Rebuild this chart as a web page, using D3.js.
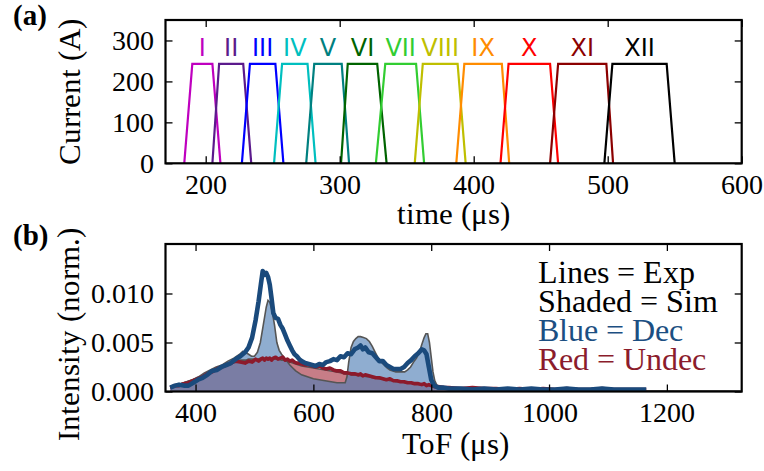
<!DOCTYPE html>
<html><head><meta charset="utf-8">
<style>
@font-face { font-family: "FigSerif"; src: local("Liberation Serif"), local("LiberationSerif"), local("LiberationSerif-Regular"), local("Tinos"), local("FreeSerif"); font-weight: 400; font-style: normal; }
</style>
<script src="https://cdn.jsdelivr.net/npm/d3@7"></script></head>
<body style="margin:0">
<svg id="s" width="764" height="471" font-family="FigSerif"></svg>
<script>
// ---------- Panel (a): coil current pulses ----------
const pulseLabels    = ["I", "II", "III", "IV", "V", "VI", "VII", "VIII", "IX", "X", "XI", "XII"];
const pulseRiseStart = [184, 205, 227, 251, 275, 301, 327, 356, 387, 420, 457, 497.5];
const pulseFlatStart = [190, 210, 233, 257, 281, 306, 334, 362, 393, 426, 463, 503.5];
const pulseFlatEnd   = [205, 228, 252, 276, 301.5, 328, 357, 388, 421, 457, 499, 544];
const pulseFallEnd   = [211, 234, 258, 282, 307, 335, 363, 394, 426.5, 463, 504, 550];
const pulseCurrent   = 243;
const timeTicks      = [200, 300, 400, 500, 600];
const currentTicks   = [0, 100, 200, 300];

// ---------- Panel (b): time-of-flight signals ----------
const expTof = [357, 365, 372, 380, 388, 396, 404, 412, 420, 428, 436, 444, 452, 460, 468, 476, 484, 490, 496, 502,
  507, 511, 514, 517, 520, 523, 526, 529, 532, 536, 540, 544, 548, 552, 556, 560, 564, 568, 572, 576,
  580, 586, 592, 598, 604, 610, 616, 622, 628, 634, 640, 646, 652, 658, 664, 670, 676, 680, 684, 688,
  694, 700, 706, 712, 718, 724, 730, 736, 742, 748, 754, 760, 766, 772, 778, 784, 788, 792, 796, 800,
  805, 812, 820, 830, 850, 870, 890, 910, 930, 950, 970, 990, 1010, 1030, 1050, 1070, 1090, 1110, 1130, 1150, 1165];
const expDec = [0.0004, 0.0006, 0.0007, 0.0006, 0.0006, 0.0009, 0.0012, 0.0014, 0.0017, 0.0021, 0.0022, 0.0025, 0.0027, 0.0029, 0.0033, 0.0036, 0.0040, 0.0045, 0.0055, 0.0073,
  0.0092, 0.0110, 0.0123, 0.0119, 0.0121, 0.0117, 0.0109, 0.0095, 0.0080, 0.0075, 0.0074, 0.0068, 0.0064, 0.0058, 0.0052, 0.0047, 0.0042, 0.0038, 0.0036, 0.0033,
  0.0031, 0.0029, 0.0028, 0.0027, 0.0026, 0.0028, 0.0027, 0.0030, 0.0031, 0.0033, 0.0032, 0.0036, 0.0035, 0.0039, 0.0038, 0.0043, 0.0045, 0.0047, 0.0043, 0.0045,
  0.0040, 0.0039, 0.0035, 0.0031, 0.0031, 0.0027, 0.0025, 0.0023, 0.0023, 0.0023, 0.0025, 0.0029, 0.0032, 0.0036, 0.0039, 0.0043, 0.0042, 0.0038, 0.0025, 0.0012,
  0.0006, 0.0004, 0.0004, 0.0003, 0.0003, 0.0002, 0.0003, 0.0002, 0.0003, 0.0002, 0.0003, 0.0002, 0.0002, 0.0003, 0.0002, 0.0002, 0.0003, 0.0002, 0.0002, 0.0002, 0.0002];
const expUndec = [0.0004, 0.0006, 0.0006, 0.0008, 0.0009, 0.0011, 0.0013, 0.0015, 0.0018, 0.0020, 0.0023, 0.0025, 0.0027, 0.0029, 0.0031, 0.0030, 0.0029, 0.0031, 0.0030, 0.0033,
  0.0031, 0.0033, 0.0034, 0.0032, 0.0034, 0.0033, 0.0034, 0.0032, 0.0034, 0.0035, 0.0033, 0.0034, 0.0035, 0.0032, 0.0033, 0.0031, 0.0032, 0.0030, 0.0029, 0.0029,
  0.0028, 0.0027, 0.0027, 0.0026, 0.0025, 0.0026, 0.0024, 0.0023, 0.0024, 0.0022, 0.0021, 0.0021, 0.0019, 0.0019, 0.0018, 0.0018, 0.0017, 0.0018, 0.0016, 0.0017,
  0.0016, 0.0015, 0.0014, 0.0014, 0.0013, 0.0012, 0.0013, 0.0011, 0.0011, 0.0010, 0.0010, 0.0009, 0.0009, 0.0008, 0.0008, 0.0007, 0.0008, 0.0006, 0.0007, 0.0006,
  0.0005, 0.0005, 0.0004, 0.0004, 0.0003, 0.0004, 0.0003, 0.0003, 0.0002, 0.0003, 0.0002, 0.0003, 0.0002, 0.0003, 0.0002, 0.0002, 0.0003, 0.0002, 0.0002, 0.0002, 0.0002];

const simTof = [357, 365, 375, 385, 395, 405, 415, 425, 435, 445, 455, 465, 475, 480, 485, 490, 495, 500, 505, 510,
  515, 520, 523, 526, 530, 534, 538, 542, 546, 550, 555, 560, 565, 570, 575, 580, 590, 600, 610, 620,
  630, 640, 648, 654, 657, 660, 664, 668, 672, 676, 680, 685, 690, 695, 700, 705, 710, 715, 720, 725,
  730, 735, 740, 745, 750, 755, 760, 765, 770, 775, 780, 784, 788, 791, 794, 797, 800, 803, 806, 810,
  815, 820, 830, 850, 900, 950, 1000, 1100, 1200, 1300, 1325];
const simDec = [0.0004, 0.0006, 0.0008, 0.0010, 0.0012, 0.0015, 0.0019, 0.0022, 0.0025, 0.0027, 0.0031, 0.0034, 0.0038, 0.0041, 0.0040, 0.0038, 0.0036, 0.0036, 0.0040, 0.0050,
  0.0068, 0.0086, 0.0093, 0.0091, 0.0082, 0.0068, 0.0050, 0.0042, 0.0038, 0.0035, 0.0031, 0.0027, 0.0024, 0.0021, 0.0019, 0.0017, 0.0015, 0.0013, 0.0012, 0.0011,
  0.0010, 0.0009, 0.0009, 0.0009, 0.0015, 0.0030, 0.0045, 0.0051, 0.0054, 0.0056, 0.0056, 0.0055, 0.0054, 0.0051, 0.0046, 0.0040, 0.0034, 0.0030, 0.0027, 0.0024,
  0.0022, 0.0021, 0.0020, 0.0020, 0.0020, 0.0020, 0.0022, 0.0025, 0.0030, 0.0034, 0.0040, 0.0048, 0.0055, 0.0059, 0.0059, 0.0050, 0.0035, 0.0020, 0.0011, 0.0006,
  0.0004, 0.0003, 0.0002, 0.0002, 0.0002, 0.0001, 0.0001, 0.0001, 0.00005, 0.00005, 0.00003];
const simUndec = [0.0004, 0.0006, 0.0008, 0.0010, 0.0012, 0.0014, 0.0017, 0.0020, 0.0023, 0.0026, 0.0028, 0.0030, 0.0032, 0.0032, 0.0032, 0.0033, 0.0033, 0.0033, 0.0033, 0.0034,
  0.0034, 0.0034, 0.0034, 0.0034, 0.0034, 0.0033, 0.0033, 0.0033, 0.0032, 0.0032, 0.0031, 0.0030, 0.0029, 0.0028, 0.0027, 0.0026, 0.0025, 0.0024, 0.0023, 0.0022,
  0.0021, 0.0020, 0.0019, 0.0018, 0.0018, 0.0018, 0.0017, 0.0017, 0.0017, 0.0016, 0.0016, 0.0016, 0.0015, 0.0015, 0.0014, 0.0014, 0.0013, 0.0013, 0.0012, 0.0012,
  0.0011, 0.0011, 0.0010, 0.0010, 0.0010, 0.0009, 0.0009, 0.0009, 0.0008, 0.0008, 0.0008, 0.0007, 0.0007, 0.0007, 0.0007, 0.0006, 0.0006, 0.0006, 0.0006, 0.0005,
  0.0005, 0.0005, 0.0004, 0.0003, 0.0002, 0.0002, 0.0001, 0.0001, 0.00005, 0.00003, 0.00002];
const tofTicks       = [400, 600, 800, 1000, 1200];
const intensityTicks = [0, 0.005, 0.010];
const legendLines    = ["Lines = Exp", "Shaded = Sim", "Blue = Dec", "Red = Undec"];

// ---------- styles ----------
const pulseColors = ["#bf00bf", "#5b1a8c", "#0000ff", "#00bfbf", "#008080", "#006400",
                     "#32cd32", "#bfbf00", "#ff8c00", "#ff0000", "#8b0000", "#000000"];
const legendColors = ["#000", "#000", "#1c4f82", "#8b1c2c"];
const SERIF = "FigSerif";
const SERIF_BOLD = "Liberation Serif";
const SANS = "DejaVu Sans";

const svg = d3.select("#s");

function drawAxes(x, y, xTicks, yTicks, yFormat) {
  const [x0, x1] = x.range();
  const [y0, y1] = y.range();
  const g = svg.append("g");
  g.append("g").attr("transform", `translate(0,${y0})`)
    .call(d3.axisBottom(x).tickValues(xTicks).tickFormat(d3.format("d"))
      .tickSizeInner(-7).tickSizeOuter(0).tickPadding(10.5));
  g.append("g").attr("transform", `translate(0,${y1})`)
    .call(d3.axisTop(x).tickValues(xTicks).tickFormat("").tickSizeInner(-7).tickSizeOuter(0));
  g.append("g").attr("transform", `translate(${x0},0)`)
    .call(d3.axisLeft(y).tickValues(yTicks).tickFormat(yFormat)
      .tickSizeInner(-7).tickSizeOuter(0).tickPadding(11.5));
  g.append("g").attr("transform", `translate(${x1},0)`)
    .call(d3.axisRight(y).tickValues(yTicks).tickFormat("").tickSizeInner(-7).tickSizeOuter(0));
  // axis groups carry a generic family by default; use the figure's serif face instead
  g.selectAll("g").attr("font-family", SERIF).attr("font-size", 28);
  g.selectAll(".domain").remove();
  g.selectAll(".tick line").attr("stroke", "#000").attr("stroke-width", 1.3);
  g.selectAll(".tick text").attr("font-size", 28).attr("font-family", SERIF).attr("fill", "#000");
  g.append("rect")
    .attr("x", x0).attr("y", y1).attr("width", x1 - x0).attr("height", y0 - y1)
    .attr("fill", "none").attr("stroke", "#000").attr("stroke-width", 2.2);
}

function addText(txt, x, y, opts = {}) {
  const t = svg.append("text")
    .attr("x", x).attr("y", y)
    .attr("font-size", opts.size || 31)
    .attr("font-family", opts.family || SERIF)
    .text(txt);
  if (opts.weight) t.attr("font-weight", opts.weight);
  if (opts.fill) t.attr("fill", opts.fill);
  if (opts.anchor) t.attr("text-anchor", opts.anchor);
  if (opts.rotate) t.attr("transform", `rotate(${opts.rotate},${x},${y})`);
  return t;
}

// ---------- Panel (a) ----------
const xA = d3.scaleLinear().domain([170, 600]).range([165.5, 741.7]);
const yA = d3.scaleLinear().domain([0, 350]).range([163.3, 20]);

svg.append("clipPath").attr("id", "clipA").append("rect")
  .attr("x", 165.5).attr("y", 20).attr("width", 741.7 - 165.5).attr("height", 163.3 - 20);

const pulseLine = d3.line().x(d => xA(d[0])).y(d => yA(d[1]));
const gA = svg.append("g").attr("clip-path", "url(#clipA)");
pulseLabels.forEach((lab, i) => {
  const pts = [[pulseRiseStart[i], 0], [pulseFlatStart[i], pulseCurrent],
               [pulseFlatEnd[i], pulseCurrent], [pulseFallEnd[i], 0]];
  gA.append("path").attr("d", pulseLine(pts))
    .attr("fill", "none").attr("stroke", pulseColors[i]).attr("stroke-width", 2.2);
});
pulseLabels.forEach((lab, i) => {
  addText(lab, xA((pulseFlatStart[i] + pulseFlatEnd[i]) / 2), yA(262),
    { family: SANS, size: 24, fill: pulseColors[i], anchor: "middle" });
});
drawAxes(xA, yA, timeTicks, currentTicks, d3.format("d"));

addText("(a)", 13, 25, { size: 29, weight: "bold", family: SERIF_BOLD });
addText("Current (A)", 79.5, 92, { anchor: "middle", rotate: -90 });
addText("time (\u03bcs)", 453.5, 224, { anchor: "middle" });

// ---------- Panel (b) ----------
const xB = d3.scaleLinear().domain([349, 1327]).range([165.5, 741.7]);
const yB = d3.scaleLinear().domain([0, 0.01505]).range([391.5, 244]);

svg.append("clipPath").attr("id", "clipB").append("rect")
  .attr("x", 165.5).attr("y", 244).attr("width", 741.7 - 165.5).attr("height", 391.5 - 244);
const gB = svg.append("g").attr("clip-path", "url(#clipB)");

const simUndecPts = simTof.map((t, i) => [t, simUndec[i]]);
const simDecPts   = simTof.map((t, i) => [t, simDec[i]]);
const expUndecPts = expTof.map((t, i) => [t, expUndec[i]]);
const expDecPts   = expTof.map((t, i) => [t, expDec[i]]);

const area = d3.area().x(d => xB(d[0])).y0(yB(0)).y1(d => yB(d[1]));
const line = d3.line().x(d => xB(d[0])).y(d => yB(d[1]));

gB.append("path").attr("d", area(simUndecPts)).attr("fill", "rgb(162,38,55)").attr("fill-opacity", 0.6);
gB.append("path").attr("d", area(simDecPts)).attr("fill", "rgb(78,125,181)").attr("fill-opacity", 0.63);
gB.append("path").attr("d", line(simUndecPts)).attr("fill", "none").attr("stroke", "#555").attr("stroke-width", 1.6);
gB.append("path").attr("d", line(simDecPts)).attr("fill", "none").attr("stroke", "#555").attr("stroke-width", 1.6);
gB.append("path").attr("d", line(expUndecPts)).attr("fill", "none").attr("stroke", "#8c1a2b")
  .attr("stroke-width", 3.6).attr("stroke-linejoin", "round");
gB.append("path").attr("d", line(expDecPts)).attr("fill", "none").attr("stroke", "#1a4a7c")
  .attr("stroke-width", 4.6).attr("stroke-linejoin", "round");

drawAxes(xB, yB, tofTicks, intensityTicks, d3.format(".3f"));

// Legend: one text block, one line per entry
const legend = svg.append("text").attr("font-size", 31.5).attr("font-family", SERIF);
legendLines.forEach((txt, i) => {
  legend.append("tspan").attr("x", 538).attr("y", 283 + i * 29)
    .attr("fill", legendColors[i]).text(txt);
});

addText("(b)", 13, 245, { size: 29, weight: "bold", family: SERIF_BOLD });
addText("Intensity (norm.)", 78.5, 334, { anchor: "middle", rotate: -90 });
addText("ToF (\u03bcs)", 455, 454, { anchor: "middle" });
</script>
</body></html>
